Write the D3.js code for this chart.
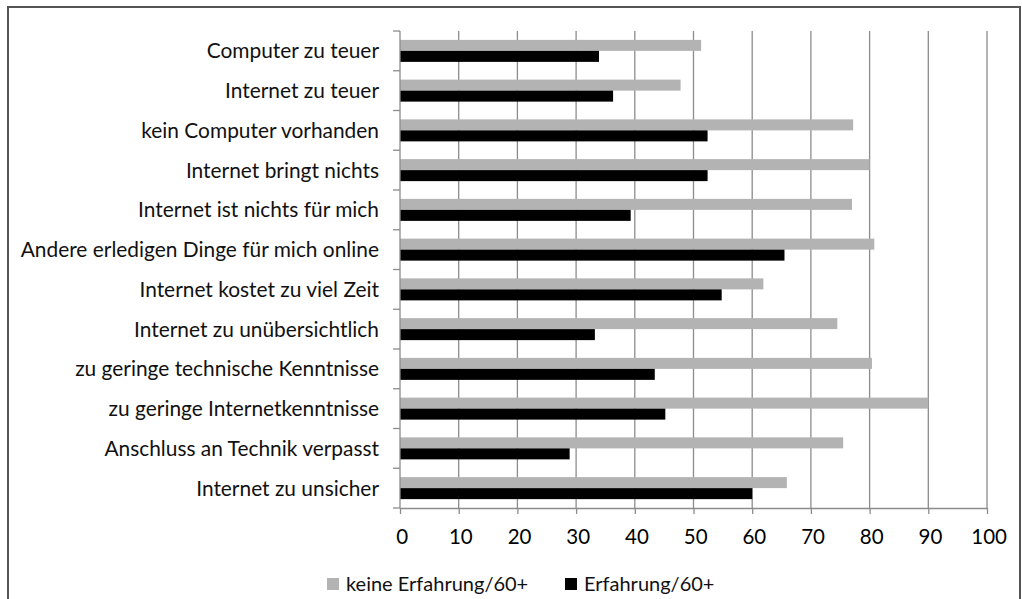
<!DOCTYPE html>
<html><head><meta charset="utf-8">
<script src="https://cdn.jsdelivr.net/npm/d3@7"></script>
<style>body{margin:0;background:#fff}svg{display:block}</style>
</head><body>
<script>
const categories = ["Computer zu teuer","Internet zu teuer","kein Computer vorhanden","Internet bringt nichts","Internet ist nichts für mich","Andere erledigen Dinge für mich online","Internet kostet zu viel Zeit","Internet zu unübersichtlich","zu geringe technische Kenntnisse","zu geringe Internetkenntnisse","Anschluss an Technik verpasst","Internet zu unsicher"];
const keineErfahrung = [51.3,47.8,77.2,80,77.0,80.8,61.9,74.5,80.4,90,75.5,65.9];
const erfahrung = [33.9,36.3,52.4,52.4,39.3,65.5,54.8,33.2,43.4,45.2,28.9,60.0];
const seriesNames = ["keine Erfahrung/60+","Erfahrung/60+"];
const xTicks = [0,10,20,30,40,50,60,70,80,90,100];

(function(){
const W=1022,H=599;
const font="Lato, 'Liberation Sans', sans-serif";
const svg=d3.select("body").append("svg").attr("width",W).attr("height",H);
svg.append("rect").attr("x",8).attr("y",7).attr("width",1012).attr("height",620)
  .attr("fill","#fff").attr("stroke","#555").attr("stroke-width",2);

const pl=400,pr=987,pt=31,pb=508;
const x=d3.scaleLinear().domain([0,100]).range([pl,pr]);
const y=d3.scaleBand().domain(categories).range([pt,pb]).paddingInner(0).paddingOuter(0);
const barH=11;

svg.append("g").selectAll("line").data(xTicks.slice(1)).join("line")
  .attr("x1",d=>x(d)).attr("x2",d=>x(d)).attr("y1",pt).attr("y2",pb)
  .attr("stroke","#8c8c8c").attr("stroke-width",1.3);

const g=svg.append("g");
g.selectAll("rect.k").data(categories).join("rect").attr("class","k")
  .attr("x",x(0)).attr("y",(d)=>y(d)+y.bandwidth()/2-barH)
  .attr("width",(d,i)=>x(keineErfahrung[i])-x(0)).attr("height",barH).attr("fill","#b3b3b3");
g.selectAll("rect.e").data(categories).join("rect").attr("class","e")
  .attr("x",x(0)).attr("y",(d)=>y(d)+y.bandwidth()/2)
  .attr("width",(d,i)=>x(erfahrung[i])-x(0)).attr("height",barH).attr("fill","#000");

const xAxis=svg.append("g").attr("transform",`translate(0,${pb})`)
  .call(d3.axisBottom(x).tickValues(xTicks).tickSize(6).tickSizeOuter(0).tickPadding(15));
xAxis.select(".domain").attr("stroke","#8c8c8c").attr("stroke-width",1.3);
xAxis.selectAll(".tick line").attr("stroke","#8c8c8c").attr("stroke-width",1.3);
xAxis.selectAll("text").attr("font-family",font).attr("font-size",20.5).attr("fill","#000")
  .attr("dx","0.08em");

const yTickPos=[...categories.map(c=>y(c)),pb];
svg.append("line").attr("x1",pl).attr("x2",pl).attr("y1",pt).attr("y2",pb)
  .attr("stroke","#8c8c8c").attr("stroke-width",1.3);
svg.append("g").selectAll("line").data(yTickPos).join("line")
  .attr("x1",pl-7).attr("x2",pl).attr("y1",d=>d).attr("y2",d=>d)
  .attr("stroke","#8c8c8c").attr("stroke-width",1.3);
svg.append("g").selectAll("text").data(categories).join("text")
  .attr("x",379).attr("y",d=>y(d)+y.bandwidth()/2).attr("dy","0.36em")
  .attr("text-anchor","end").attr("font-family",font).attr("font-size",20.9).attr("fill","#111").text(d=>d);

const leg=svg.append("g");
const legItems=[{n:seriesNames[0],c:"#b3b3b3",x:327},{n:seriesNames[1],c:"#000",x:565}];
legItems.forEach(it=>{
  leg.append("rect").attr("x",it.x).attr("y",578).attr("width",12).attr("height",12).attr("fill",it.c);
  leg.append("text").attr("x",it.x+19).attr("y",591).attr("font-family",font)
    .attr("font-size",20).attr("fill","#111").text(it.n);
});
})();
</script>
</body></html>
